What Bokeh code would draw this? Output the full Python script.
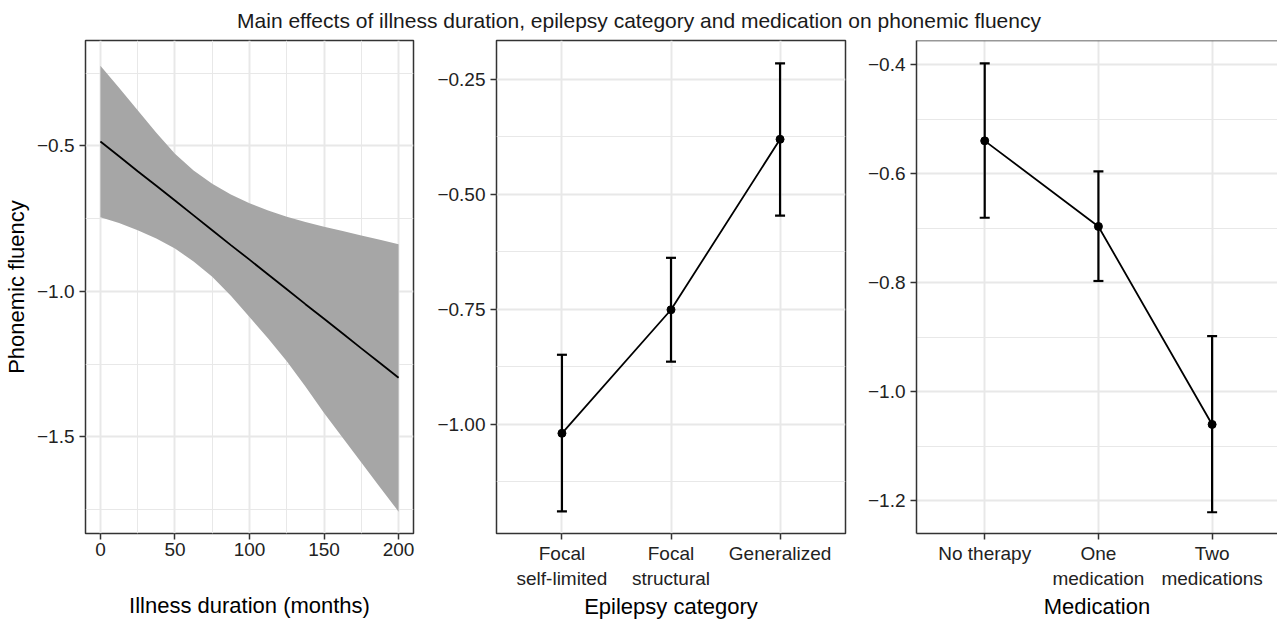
from bokeh.plotting import figure
from bokeh.models import Range1d, FixedTicker, Whisker, TeeHead, ColumnDataSource, Span
from bokeh.layouts import column, row
from bokeh.embed import file_html
from bokeh.resources import INLINE
from bokeh.core.properties import value

TITLE = "Main effects of illness duration, epilepsy category and medication on phonemic fluency"

# ---- Panel 1: illness duration (months) ----
duration = [0, 12.5, 25, 37.5, 50, 62.5, 75, 87.5, 100, 112.5, 125, 137.5, 150, 162.5, 175, 187.5, 200]
fit = [-0.485, -0.536, -0.587, -0.637, -0.688, -0.739, -0.790, -0.841, -0.891,
       -0.942, -0.993, -1.044, -1.094, -1.145, -1.196, -1.246, -1.297]
ci_upper = [-0.225, -0.300, -0.378, -0.455, -0.527, -0.585, -0.630, -0.667, -0.697,
            -0.722, -0.744, -0.762, -0.778, -0.793, -0.808, -0.823, -0.838]
ci_lower = [-0.745, -0.765, -0.790, -0.818, -0.853, -0.897, -0.950, -1.015, -1.088,
            -1.162, -1.240, -1.327, -1.418, -1.503, -1.588, -1.673, -1.757]
dur_ticks = [0, 50, 100, 150, 200]
dur_minor = [25, 75, 125, 175]
pf1_ticks = [-0.5, -1.0, -1.5]
pf1_minor = [-0.25, -0.75, -1.25, -1.75]

# ---- Panel 2: epilepsy category ----
epi_cats = ["Focal\nself-limited", "Focal\nstructural", "Generalized"]
epi_est = [-1.020, -0.751, -0.380]
epi_lower = [-1.190, -0.864, -0.546]
epi_upper = [-0.849, -0.638, -0.215]
pf2_ticks = [-0.25, -0.50, -0.75, -1.00]
pf2_labels = ["-0.25", "-0.50", "-0.75", "-1.00"]
pf2_minor = [-0.375, -0.625, -0.875, -1.125]

# ---- Panel 3: medication ----
med_cats = ["No therapy", "One\nmedication", "Two\nmedications"]
med_est = [-0.540, -0.697, -1.060]
med_lower = [-0.681, -0.797, -1.221]
med_upper = [-0.398, -0.596, -0.898]
pf3_ticks = [-0.4, -0.6, -0.8, -1.0, -1.2]
pf3_minor = [-0.5, -0.7, -0.9, -1.1]

FONT = "Liberation Sans"
GRID = "#e8e8e8"
BORDER = "#333333"
TICK_TXT = "#222222"


def style(p, xt, xminor, yt, yminor):
    p.outline_line_color = BORDER
    p.outline_line_width = 1.5
    p.background_fill_color = "white"
    p.border_fill_color = "white"
    p.xaxis.ticker = FixedTicker(ticks=xt, minor_ticks=xminor)
    p.yaxis.ticker = FixedTicker(ticks=yt, minor_ticks=yminor)
    for ax in (p.xaxis[0], p.yaxis[0]):
        ax.axis_line_color = None
        ax.major_tick_line_color = BORDER
        ax.major_tick_line_width = 1.5
        ax.major_tick_in = 0
        ax.major_tick_out = 6
        ax.minor_tick_line_color = None
        ax.major_label_text_font = FONT
        ax.major_label_text_font_size = "19px"
        ax.major_label_text_color = TICK_TXT
        ax.axis_label_text_font = FONT
        ax.axis_label_text_font_size = "22px"
        ax.axis_label_text_font_style = "normal"
        ax.axis_label_text_color = "black"
    p.xaxis.major_label_standoff = 3
    p.yaxis.major_label_standoff = 5
    for g in (p.xgrid[0], p.ygrid[0]):
        g.grid_line_color = GRID
        g.grid_line_width = 2
        g.minor_grid_line_color = GRID
        g.minor_grid_line_width = 1


def minus(v, fmt):
    return fmt.format(v).replace("-", "\u2212")


# Title strip
pt = figure(width=1277, height=38, x_range=Range1d(0, 1), y_range=Range1d(0, 1),
            toolbar_location=None, output_backend="svg", min_border=0,
            x_axis_type=None, y_axis_type=None, outline_line_color=None)
pt.text(x=[0.5], y=[0.466], text=[TITLE], text_align="center", text_baseline="alphabetic",
        text_font=value(FONT), text_font_size="21px", text_color="#1a1a1a")

# Panel 1
p1 = figure(width=432, height=583, x_range=Range1d(-10, 210), y_range=Range1d(-1.832, -0.138),
            toolbar_location=None, output_backend="svg",
            min_border_left=80, min_border_right=19, min_border_top=2, min_border_bottom=79)
src1 = ColumnDataSource(dict(x=duration, fit=fit, lo=ci_lower, hi=ci_upper))
p1.varea(x="x", y1="lo", y2="hi", source=src1, fill_color="#a6a6a6")
p1.line(x="x", y="fit", source=src1, line_color="black", line_width=1.8)
style(p1, dur_ticks, dur_minor, pf1_ticks, pf1_minor)
p1.xaxis.axis_label = "Illness duration (months)"
p1.yaxis.axis_label = "Phonemic fluency"
p1.xaxis.axis_label_standoff = 34
p1.yaxis.axis_label_standoff = 5
p1.yaxis.major_label_overrides = {t: minus(t, "{:.1f}") for t in pf1_ticks}


def cat_panel(cats, est, lower, upper, yrange, yt, ylabels, yminor, xlabel, width, bl, br, bb, xend):
    xs = list(range(1, len(cats) + 1))
    p = figure(width=width, height=583, x_range=Range1d(0.4, xend), y_range=yrange,
               toolbar_location=None, output_backend="svg",
               min_border_left=bl, min_border_right=br, min_border_top=2, min_border_bottom=bb)
    src = ColumnDataSource(dict(x=xs, est=est, lower=lower, upper=upper))
    w = Whisker(source=src, base="x", upper="upper", lower="lower", line_color="black",
                line_width=2.2, level="glyph",
                upper_head=TeeHead(size=10, line_color="black", line_width=2.2),
                lower_head=TeeHead(size=10, line_color="black", line_width=2.2))
    p.add_layout(w)
    p.line(x="x", y="est", source=src, line_color="black", line_width=1.8)
    p.scatter(x="x", y="est", source=src, size=8, fill_color="black", line_color="black")
    style(p, xs, [], yt, yminor)
    p.xaxis.major_label_overrides = {x: c for x, c in zip(xs, cats)}
    p.yaxis.major_label_overrides = {t: l.replace("-", "\u2212") for t, l in zip(yt, ylabels)}
    p.xaxis.axis_label = xlabel
    p.xaxis.axis_label_standoff = 2
    return p


p2 = cat_panel(epi_cats, epi_est, epi_lower, epi_upper, Range1d(-1.238, -0.165),
               pf2_ticks, pf2_labels, pf2_minor, "Epilepsy category", 420, 64, 7, 75, 3.6)
p3 = cat_panel(med_cats, med_est, med_lower, med_upper, Range1d(-1.260, -0.356),
               pf3_ticks, [minus(t, "{:.1f}") for t in pf3_ticks], pf3_minor, "Medication",
               425, 64, 0, 75, 3.575)

# the right panel's border runs off the page edge: draw only left/bottom/top sides
p3.outline_line_color = None
for ax in (p3.xaxis[0], p3.yaxis[0]):
    ax.axis_line_color = BORDER
    ax.axis_line_width = 1.5
p3.add_layout(Span(location=p3.y_range.end, dimension="width",
                   line_color=BORDER, line_width=1.5))

layout = column(pt, row(p1, p2, p3))
open("out.html", "w").write(file_html(layout, INLINE))
